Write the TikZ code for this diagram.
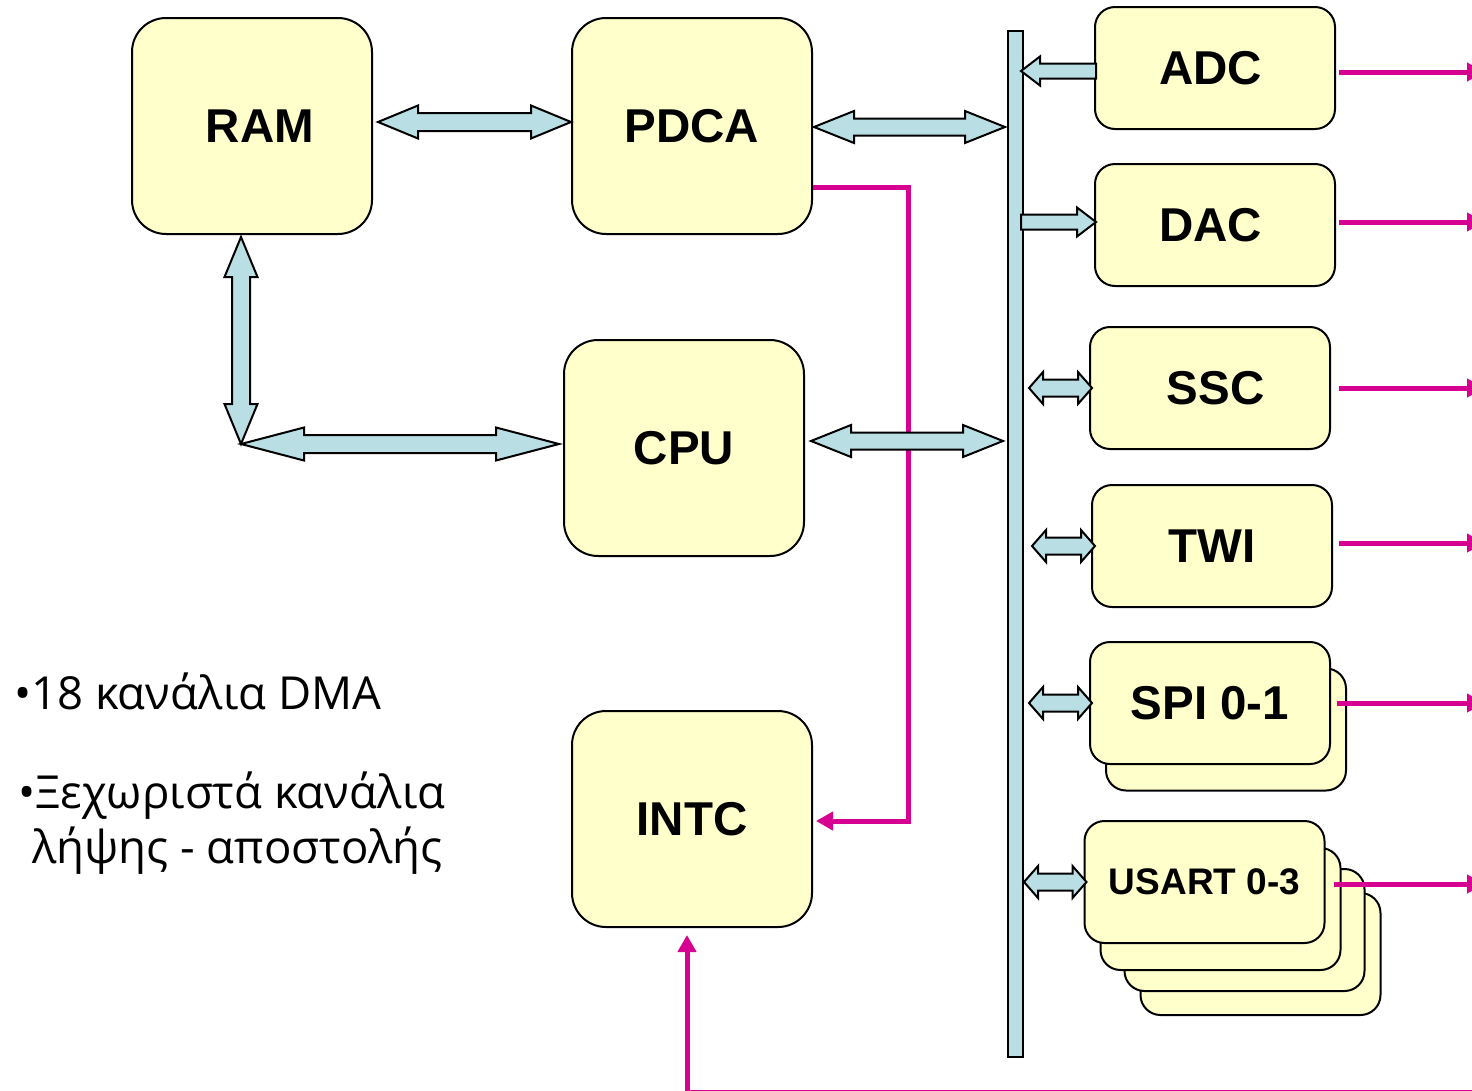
\documentclass[tikz,border=0pt]{standalone}
\usepackage{fontspec}
\setmainfont{Liberation Sans}
\newfontfamily\greekfont{Open Sans}
\usetikzlibrary{calc,arrows.meta}

\definecolor{boxyellow}{RGB}{255,255,204}
\definecolor{busblue}{RGB}{185,222,227}
\definecolor{sigpink}{RGB}{214,0,145}

% double-headed block arrow between two named points: #1,#2 ends; #3 head length, #4 head half-width, #5 shaft half-width
\newcommand\twoway[5]{%
  \draw[blockarrow] (#1)
    -- ($(#1)!#3!(#2)!#4!90:(#2)$) -- ($(#1)!#3!(#2)!#5!90:(#2)$)
    -- ($(#2)!#3!(#1)!#5!-90:(#1)$) -- ($(#2)!#3!(#1)!#4!-90:(#1)$)
    -- (#2)
    -- ($(#2)!#3!(#1)!#4!90:(#1)$) -- ($(#2)!#3!(#1)!#5!90:(#1)$)
    -- ($(#1)!#3!(#2)!#5!-90:(#2)$) -- ($(#1)!#3!(#2)!#4!-90:(#2)$)
    -- cycle;}
% single-headed block arrow from tail #1 to tip #2
\newcommand\oneway[5]{%
  \draw[blockarrow] ($(#1)!#5!90:(#2)$)
    -- ($(#2)!#3!(#1)!#5!-90:(#1)$) -- ($(#2)!#3!(#1)!#4!-90:(#1)$)
    -- (#2)
    -- ($(#2)!#3!(#1)!#4!90:(#1)$) -- ($(#2)!#3!(#1)!#5!90:(#1)$)
    -- ($(#1)!#5!-90:(#2)$) -- cycle;}

\tikzset{
  blockarrow/.style={draw=black, fill=busblue, line width=2pt, line join=miter},
  unit/.style={draw=black, fill=boxyellow, line width=2pt, rounded corners=34pt,
    minimum width=240pt, minimum height=216pt, inner sep=0pt,
    font=\fontsize{47.5}{50}\selectfont\bfseries},
  periph/.style={unit, rounded corners=20pt, minimum height=122pt},
  sig/.style={draw=sigpink, line width=5pt, -{Triangle[length=17pt,width=18pt]}},
  note/.style={anchor=base west, inner sep=0pt, font=\greekfont\fontsize{45.5}{50}\selectfont},
}

\begin{document}
\begin{tikzpicture}[x=1pt,y=-1pt]
\useasboundingbox (0,0) rectangle (1472,1090);

% system bus
\node[draw=black, fill=busblue, line width=2pt, minimum width=15pt, minimum height=1026pt, inner sep=0pt] (bus) at (1015.5,544) {};

% core blocks
\node[unit] (RAM)  at (252,126) {\hspace*{16pt}RAM};
\node[unit] (PDCA) at (692,126) {PDCA};
\node[unit] (CPU)  at (684,448) {CPU};
\node[unit] (INTC) at (692,819) {INTC};

% peripherals
\node[periph] (ADC) at (1215,68)  {ADC\hspace*{9pt}};
\node[periph] (DAC) at (1215,225) {DAC\hspace*{9pt}};
\node[periph] (SSC) at (1210,388) {\hspace*{11pt}SSC};
\node[periph] (TWI) at (1212,546) {TWI};
\node[periph] (SPIb) at (1226,729.5) {};
\node[periph] (SPI) at (1210,703) {SPI 0-1};
\node[periph] (US4) at (1260.5,954) {};
\node[periph] (US3) at (1244.5,930) {};
\node[periph] (US2) at (1220.5,909) {};
\node[periph, font=\fontsize{37}{40}\selectfont\bfseries] (USART) at (1204.5,882) {USART 0-3};

% signal lines
\coordinate (adcout) at ($(ADC.east)+(148,4)$);
\coordinate (dacout) at ($(DAC.east)+(148,-3)$);
\coordinate (sscout) at ($(SSC.east)+(153,0)$);
\coordinate (twiout) at ($(TWI.east)+(151,-3)$);
\coordinate (spiout) at ($(SPI.east)+(153,0)$);
\coordinate (usout)  at ($(USART.east)+(158.5,2)$);
\draw[sig] ($(ADC.east)+(3,4)$) -- (adcout);
\draw[sig] ($(DAC.east)+(3,-3)$) -- (dacout);
\draw[sig] ($(SSC.east)+(8,0)$) -- (sscout);
\draw[sig] ($(TWI.east)+(6,-3)$) -- (twiout);
\draw[sig] ($(SPI.east)+(6,0)$) -- (spiout);
\draw[sig] ($(USART.east)+(8,2)$) -- (usout);
\draw[sig] ($(PDCA.east)+(0,61)$) -- ++(95,0) |- ($(INTC.east)+(3,2)$);
\coordinate (irq) at (1480,1092.8);
\draw[sig] (irq) -| ($(INTC.south)+(-5,7)$);

% data paths
\coordinate (rp1) at ($(RAM.east)+(5,-4)$);
\coordinate (rp2) at (PDCA.west |- rp1);
\twoway{rp1}{rp2}{40pt}{16.5pt}{9pt}
\coordinate (pb1) at ($(PDCA.east)+(1,1)$);
\coordinate (pb2) at ($(bus.west |- pb1)+(-2,0)$);
\twoway{pb1}{pb2}{40pt}{16pt}{8.5pt}
\coordinate (cb1) at ($(CPU.east)+(6,-7)$);
\coordinate (cb2) at ($(bus.west |- cb1)+(-4,0)$);
\twoway{cb1}{cb2}{40pt}{16pt}{8.5pt}
\coordinate (rv1) at ($(RAM.south)+(-11,2)$);
\coordinate (ramcpu) at ($(rv1 |- CPU.west)+(0,-4)$);
\coordinate (rc2) at ($(CPU.west)+(-4,-4)$);
\twoway{rv1}{ramcpu}{40pt}{16.5pt}{9pt}
\twoway{ramcpu}{rc2}{63pt}{16.5pt}{9pt}

% peripheral bus links
\coordinate (adc1) at ($(ADC.west)+(2,3)$);
\coordinate (adc2) at ($(bus.east |- adc1)+(-3,0)$);
\oneway{adc1}{adc2}{19pt}{14.5pt}{7.5pt}
\coordinate (dac2) at ($(DAC.west)+(2,-3)$);
\coordinate (dac1) at ($(bus.east |- dac2)+(-3,0)$);
\oneway{dac1}{dac2}{19pt}{14.5pt}{7.5pt}
\coordinate (ssc1) at ($(bus.east |- SSC.west)+(5,0)$);
\coordinate (ssc2) at ($(SSC.west)+(3,0)$);
\twoway{ssc1}{ssc2}{14pt}{16pt}{8.5pt}
\coordinate (twi1) at ($(bus.east |- TWI.west)+(8,0)$);
\coordinate (twi2) at ($(TWI.west)+(4,0)$);
\twoway{twi1}{twi2}{14pt}{16pt}{8.5pt}
\coordinate (spi1) at ($(bus.east |- SPI.west)+(5,0)$);
\coordinate (spi2) at ($(SPI.west)+(3,0)$);
\twoway{spi1}{spi2}{14pt}{16pt}{8.5pt}
\coordinate (us1) at (bus.east |- USART.west);
\coordinate (us2) at ($(USART.west)+(3,0)$);
\twoway{us1}{us2}{14pt}{16pt}{8.5pt}

% notes
\node[note] (n1) at (14,709) {•18 κανάλια DMA};
\node[note] (n2) at (18,808) {•Ξεχωριστά κανάλια};
\node[note] (n3) at (32,863) {λήψης - αποστολής};
\end{tikzpicture}
\end{document}
